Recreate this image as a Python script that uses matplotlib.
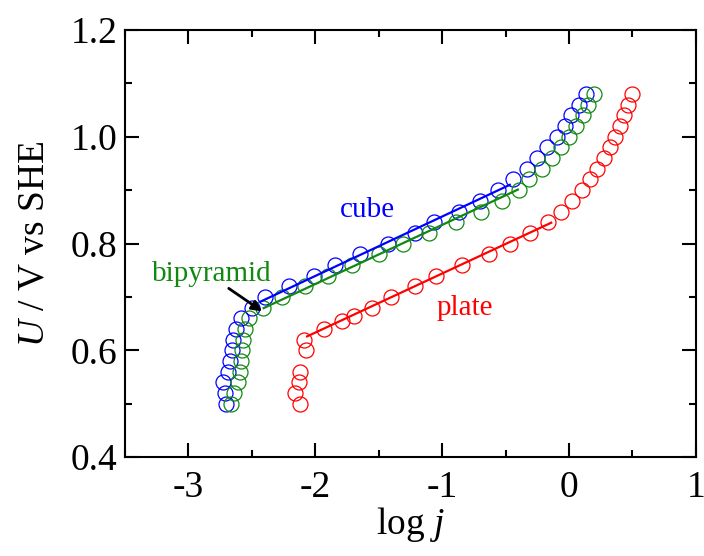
import matplotlib
matplotlib.use("Agg")
import matplotlib.pyplot as plt

plt.rcParams['font.family'] = ['Liberation Serif', 'DejaVu Serif']
plt.rcParams['mathtext.fontset'] = 'custom'
plt.rcParams['mathtext.rm'] = 'Liberation Serif'
plt.rcParams['mathtext.it'] = 'Liberation Serif:italic'

# potential (V vs SHE)
U_cube = [0.50, 0.52, 0.54, 0.56, 0.58, 0.60, 0.62, 0.64, 0.66, 0.68, 0.70, 0.72, 0.74, 0.76, 0.78,
          0.80, 0.82, 0.84, 0.86, 0.88, 0.90, 0.92, 0.94, 0.96, 0.98, 1.00, 1.02, 1.04, 1.06, 1.08]
logj_cube = [-2.699, -2.706, -2.722, -2.683, -2.667, -2.651, -2.643, -2.620, -2.580, -2.496,
             -2.391, -2.208, -2.011, -1.845, -1.643, -1.427, -1.209, -1.065, -0.868, -0.701,
             -0.557, -0.439, -0.331, -0.250, -0.171, -0.093, -0.035, 0.012, 0.078, 0.130]

U_bipy = U_cube
logj_bipy = [-2.659, -2.636, -2.604, -2.588, -2.580, -2.572, -2.565, -2.549, -2.517, -2.407,
             -2.257, -2.076, -1.897, -1.708, -1.495, -1.306, -1.104, -0.888, -0.691, -0.529,
             -0.392, -0.315, -0.211, -0.132, -0.061, 0.002, 0.056, 0.108, 0.150, 0.198]

U_plate = [0.50, 0.52, 0.54, 0.56, 0.60, 0.62, 0.64, 0.655, 0.665, 0.68, 0.70, 0.72, 0.74, 0.76, 0.78,
           0.80, 0.82, 0.84, 0.86, 0.88, 0.90, 0.92, 0.94, 0.96, 0.98, 1.00, 1.02, 1.04, 1.06, 1.08]
logj_plate = [-2.115, -2.155, -2.129, -2.121, -2.068, -2.089, -1.932, -1.784, -1.690, -1.550,
              -1.398, -1.215, -1.044, -0.841, -0.632, -0.461, -0.307, -0.169, -0.063, 0.026,
              0.099, 0.164, 0.223, 0.275, 0.320, 0.361, 0.401, 0.432, 0.464, 0.498]

# Tafel fit lines (end points)
fit_cube_x = [-2.431, -0.466]
fit_cube_y = [0.691, 0.910]
fit_bipy_x = [-2.405, -0.403]
fit_bipy_y = [0.679, 0.901]
fit_plate_x = [-2.063, -0.140]
fit_plate_y = [0.626, 0.839]

c_blue = '#0000ff'
c_green = '#118811'
c_red = '#ff0000'

fig = plt.figure(figsize=(7.04, 5.56), dpi=100)
ax = fig.add_axes([0.177, 0.178, 0.8116, 0.768])

ms = 10.8
ax.plot(logj_cube, U_cube, 'o', mfc='none', mec=c_blue, ms=ms, mew=0.9)
ax.plot(logj_bipy, U_bipy, 'o', mfc='none', mec=c_green, ms=ms, mew=0.9)
ax.plot(logj_plate, U_plate, 'o', mfc='none', mec=c_red, ms=ms, mew=0.9)
ax.plot(fit_cube_x, fit_cube_y, '-', color=c_blue, lw=1.6)
ax.plot(fit_bipy_x, fit_bipy_y, '-', color=c_green, lw=1.6)
ax.plot(fit_plate_x, fit_plate_y, '-', color=c_red, lw=1.6)

ax.text(-1.587, 0.863, 'cube', color=c_blue, fontsize=21, ha='center', va='center')
ax.text(-0.822, 0.679, 'plate', color=c_red, fontsize=21, ha='center', va='center')
ax.text(-2.811, 0.743, 'bipyramid', color=c_green, fontsize=21, ha='center', va='center')
ax.annotate('', xy=(-2.417, 0.673), xytext=(-2.680, 0.716),
            arrowprops=dict(arrowstyle='-|>', color='black', lw=2.0, mutation_scale=15,
                            shrinkA=0, shrinkB=0))

ax.set_xlim(-3.5, 1)
ax.set_ylim(0.4, 1.2)
ax.set_xticks([-3, -2, -1, 0, 1])
ax.set_xticklabels(['-3', '-2', '-1', '0', '1'])
ax.set_xticks([-3.5, -2.5, -1.5, -0.5, 0.5], minor=True)
ax.set_yticks([0.4, 0.6, 0.8, 1.0, 1.2])
ax.set_yticklabels(['0.4', '0.6', '0.8', '1.0', '1.2'])
ax.set_yticks([0.5, 0.7, 0.9, 1.1], minor=True)

ax.tick_params(which='both', direction='in', top=True, right=True, width=1.5, labelsize=27)
ax.tick_params(which='major', length=10)
ax.tick_params(which='minor', length=5)
ax.tick_params(axis='y', pad=5)
ax.tick_params(axis='x', pad=10)
for s in ax.spines.values():
    s.set_linewidth(1.5)

ax.set_xlabel('log $j$', fontsize=27, labelpad=0)
ax.set_ylabel('$U$ / V vs SHE', fontsize=27, labelpad=14)

fig.savefig('out.png', dpi=100)
